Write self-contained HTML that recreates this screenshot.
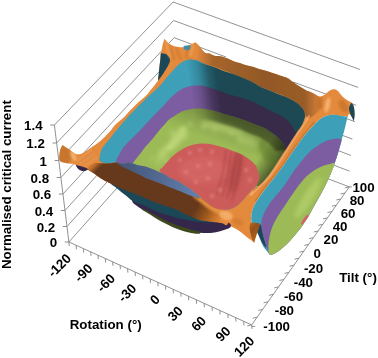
<!DOCTYPE html>
<html><head><meta charset="utf-8"><title>Chart</title>
<style>html,body{margin:0;padding:0;background:#fff;}svg{display:block}</style></head>
<body>
<svg width="378" height="358" viewBox="0 0 378 358">
<defs>
<linearGradient id="shadeR" gradientUnits="userSpaceOnUse" x1="186" y1="60" x2="215" y2="56">
<stop offset="0" stop-color="#000" stop-opacity="0"/><stop offset="0.35" stop-color="#000" stop-opacity="0.14"/><stop offset="0.7" stop-color="#000" stop-opacity="0.42"/><stop offset="1" stop-color="#000" stop-opacity="0.55"/></linearGradient>
<linearGradient id="shadeG" gradientUnits="userSpaceOnUse" x1="250" y1="110" x2="235" y2="150">
<stop offset="0" stop-color="#000" stop-opacity="0.33"/><stop offset="1" stop-color="#000" stop-opacity="0"/></linearGradient>
<linearGradient id="rimG" gradientUnits="userSpaceOnUse" x1="196" y1="0" x2="335" y2="0">
<stop offset="0" stop-color="#000" stop-opacity="0"/><stop offset="0.12" stop-color="#000" stop-opacity="0.27"/><stop offset="0.5" stop-color="#000" stop-opacity="0.36"/><stop offset="0.78" stop-color="#000" stop-opacity="0.33"/><stop offset="0.92" stop-color="#000" stop-opacity="0"/></linearGradient>
<linearGradient id="flG" gradientUnits="userSpaceOnUse" x1="88" y1="163" x2="225.6" y2="244.6">
<stop offset="0" stop-color="#66391A"/><stop offset="0.724" stop-color="#66391A"/><stop offset="0.8" stop-color="#9A571D"/><stop offset="0.854" stop-color="#C8742A"/><stop offset="0.904" stop-color="#E48A3C"/><stop offset="1" stop-color="#E48A3C"/></linearGradient>
<linearGradient id="bgG" gradientUnits="userSpaceOnUse" x1="116" y1="0" x2="198" y2="0"><stop offset="0" stop-color="#435575"/><stop offset="0.5" stop-color="#526890"/><stop offset="1" stop-color="#6280AE"/></linearGradient>
<linearGradient id="flapG" gradientUnits="userSpaceOnUse" x1="244" y1="224" x2="259" y2="238"><stop offset="0" stop-color="#C27226"/><stop offset="0.5" stop-color="#94501A"/><stop offset="1" stop-color="#B4651F"/></linearGradient>
<linearGradient id="shadeS" gradientUnits="userSpaceOnUse" x1="283" y1="155" x2="268" y2="144.5"><stop offset="0" stop-color="#000" stop-opacity="0.5"/><stop offset="1" stop-color="#000" stop-opacity="0"/></linearGradient>
<linearGradient id="brLo" gradientUnits="userSpaceOnUse" x1="88" y1="166" x2="95" y2="173"><stop offset="0" stop-color="#E48A3C" stop-opacity="1"/><stop offset="0.5" stop-color="#C8742C" stop-opacity="0.75"/><stop offset="1" stop-color="#A05A20" stop-opacity="0"/></linearGradient>
<linearGradient id="blobG" gradientUnits="userSpaceOnUse" x1="196" y1="0" x2="214" y2="0">
<stop offset="0" stop-color="#66391A"/><stop offset="1" stop-color="#E8923C"/></linearGradient>
<linearGradient id="brL" gradientUnits="userSpaceOnUse" x1="92" y1="0" x2="104" y2="0">
<stop offset="0" stop-color="#E48A3C"/><stop offset="1" stop-color="#66391A"/></linearGradient>
<filter id="soft" x="-5%" y="-5%" width="110%" height="110%"><feGaussianBlur stdDeviation="0.4"/></filter>
<filter id="b2" x="-20%" y="-20%" width="140%" height="140%"><feGaussianBlur stdDeviation="2.2"/></filter>
<filter id="b1" x="-20%" y="-20%" width="140%" height="140%"><feGaussianBlur stdDeviation="1.1"/></filter>
</defs>
<rect width="378" height="358" fill="#fff"/>
<g stroke="#777" stroke-width="0.8" fill="none">
<path d="M54.4,125.0 L173.1,2.0 L359.9,69.5"/>
<path d="M56.6,143.0 L173.6,20.5 L358.1,87.4"/>
<path d="M58.8,160.5 L174.1,37.7 L226,57.0 M293,81.9 L356.1,105.3"/>
<path d="M60.9,177.5 L174.6,55.0 L354.9,121.7"/>
<path d="M63.0,194.0 L175.1,72.0 L352.4,139.1"/>
<path d="M65.0,210.5 L175.6,88.5 L351.0,155.5"/>
<path d="M67.0,226.5 L176.1,105.0 L349.6,171.2"/>
<path d="M68.9,242.0 L176.6,121.0 L349.3,186.9"/>
</g>
<g stroke="#858585" stroke-width="0.9" fill="none">
<path d="M54.4,125.0 L68.9,242.0"/>
<path d="M50.2,125.0 L54.4,125.0"/>
<path d="M52.4,143.0 L56.6,143.0"/>
<path d="M54.6,160.5 L58.8,160.5"/>
<path d="M56.7,177.5 L60.9,177.5"/>
<path d="M58.8,194.0 L63.0,194.0"/>
<path d="M60.8,210.5 L65.0,210.5"/>
<path d="M62.8,226.5 L67.0,226.5"/>
<path d="M64.7,242.0 L68.9,242.0"/>
<path d="M68.9,242.0 L251.7,324.9"/>
<path d="M68.9,242.0 L69.2,246.0"/>
<path d="M76.1,245.3 L76.4,249.3"/>
<path d="M83.4,248.6 L83.7,252.6"/>
<path d="M90.7,251.9 L91.0,255.9"/>
<path d="M98.0,255.2 L98.3,259.2"/>
<path d="M105.3,258.5 L105.6,262.5"/>
<path d="M112.7,261.9 L113.0,265.9"/>
<path d="M120.1,265.2 L120.4,269.2"/>
<path d="M127.6,268.6 L127.9,272.6"/>
<path d="M135.1,272.0 L135.4,276.0"/>
<path d="M142.6,275.4 L142.9,279.4"/>
<path d="M150.2,278.9 L150.5,282.9"/>
<path d="M157.8,282.3 L158.1,286.3"/>
<path d="M165.4,285.8 L165.7,289.8"/>
<path d="M173.1,289.3 L173.4,293.3"/>
<path d="M180.8,292.7 L181.1,296.7"/>
<path d="M188.5,296.3 L188.8,300.3"/>
<path d="M196.3,299.8 L196.6,303.8"/>
<path d="M204.1,303.3 L204.4,307.3"/>
<path d="M212.0,306.9 L212.3,310.9"/>
<path d="M219.8,310.5 L220.1,314.5"/>
<path d="M227.8,314.0 L228.1,318.0"/>
<path d="M235.7,317.6 L236.0,321.6"/>
<path d="M243.7,321.3 L244.0,325.3"/>
<path d="M251.7,324.9 L252.0,328.9"/>
<path d="M251.7,324.9 L349.3,186.9"/>
<path d="M247.3,325.9 L251.7,324.9"/>
<path d="M252.8,318.2 L257.2,317.2"/>
<path d="M258.3,310.4 L262.7,309.4"/>
<path d="M263.6,302.8 L268.0,301.8"/>
<path d="M269.0,295.3 L273.4,294.3"/>
<path d="M274.2,287.9 L278.6,286.9"/>
<path d="M279.4,280.5 L283.8,279.5"/>
<path d="M284.5,273.4 L288.9,272.4"/>
<path d="M289.5,266.2 L293.9,265.2"/>
<path d="M294.5,259.2 L298.9,258.2"/>
<path d="M299.4,252.2 L303.8,251.2"/>
<path d="M304.3,245.4 L308.7,244.4"/>
<path d="M309.1,238.6 L313.5,237.6"/>
<path d="M313.7,232.0 L318.1,231.0"/>
<path d="M318.4,225.3 L322.8,224.3"/>
<path d="M323.0,218.9 L327.4,217.9"/>
<path d="M327.5,212.5 L331.9,211.5"/>
<path d="M331.9,206.2 L336.3,205.2"/>
<path d="M336.3,200.0 L340.7,199.0"/>
<path d="M340.6,194.0 L345.0,193.0"/>
<path d="M344.9,187.9 L349.3,186.9"/>
<path d="M251.7,326.4 L255.2,326.4"/>
<path d="M349.3,186.9 L351.8,186.9"/>
</g>
<g filter="url(#soft)">
<path d="M62.4,145.1 C62.4,145.1 64.8,146.6 66.3,147.5 C67.8,148.4 69.5,149.6 71.1,150.7 C72.7,151.8 74.3,153.4 75.9,153.9 C77.5,154.4 79.1,154.3 80.7,153.9 C82.3,153.5 83.8,152.4 85.4,151.5 C87.0,150.6 88.6,149.4 90.2,148.3 C91.8,147.2 93.4,146.2 95.0,145.1 C96.6,144.0 98.2,142.9 99.8,141.6 C101.4,140.2 103.1,138.6 104.7,137.0 C106.3,135.4 107.8,133.9 109.5,132.0 C111.2,130.1 113.0,127.3 114.6,125.5 C116.2,123.7 117.7,122.7 119.3,121.3 C120.9,119.9 122.5,118.6 124.1,117.0 C125.7,115.4 127.3,113.4 128.9,111.7 C130.5,110.0 132.1,108.5 133.7,106.9 C135.3,105.3 136.8,103.7 138.4,102.2 C140.0,100.8 141.7,99.5 143.2,98.2 C144.7,96.9 146.1,95.8 147.2,94.5 C148.3,93.2 148.9,92.1 150.0,90.7 C151.1,89.3 152.7,87.7 154.0,86.0 C155.3,84.3 158.0,80.8 158.0,80.8 C158.0,80.8 158.5,75.8 158.8,73.2 C159.1,70.6 159.3,67.7 159.6,65.3 C159.9,62.9 160.2,60.9 160.4,58.9 C160.6,56.9 160.6,54.6 160.8,53.3 C161.0,52.0 161.2,52.3 161.5,50.9 C161.8,49.5 162.2,46.7 162.7,44.6 C163.2,42.5 164.6,38.5 164.6,38.5 C164.6,38.5 166.2,41.1 167.5,42.2 C168.8,43.4 170.4,44.6 172.3,45.4 C174.2,46.2 176.6,46.6 178.7,46.9 C180.8,47.1 183.0,47.3 185.0,46.9 C187.0,46.5 188.9,45.4 190.6,44.6 C192.3,43.8 195.4,42.2 195.4,42.2 C195.4,42.2 196.9,43.6 197.8,44.6 C198.7,45.6 200.1,47.2 201.0,48.3 C201.9,49.4 202.7,50.5 203.5,51.3 C204.3,52.1 204.8,52.6 205.8,53.0 C206.9,53.4 208.3,53.1 209.8,53.6 C211.3,54.1 212.8,55.4 214.6,55.8 C216.4,56.2 218.8,55.8 220.9,56.2 C223.0,56.6 225.2,57.5 227.3,58.3 C229.4,59.1 231.6,60.4 233.7,61.2 C235.8,62.0 237.9,62.4 240.0,63.1 C242.1,63.8 244.3,64.7 246.4,65.3 C248.5,65.9 250.7,66.1 252.8,66.7 C254.9,67.3 257.0,68.2 259.1,68.9 C261.2,69.6 263.1,69.9 265.2,70.6 C267.3,71.2 269.5,72.0 272.0,72.8 C274.5,73.6 277.4,74.5 280.0,75.4 C282.6,76.3 285.2,76.8 287.5,78.0 C289.8,79.2 291.7,81.1 293.8,82.6 C295.9,84.1 298.1,85.5 300.2,86.8 C302.3,88.1 305.0,89.7 306.6,90.5 C308.2,91.3 308.6,91.1 310.0,91.7 C311.4,92.3 313.2,93.3 314.8,94.1 C316.4,94.9 318.0,96.4 319.6,96.5 C321.2,96.6 322.7,95.8 324.3,94.9 C325.9,94.0 327.5,91.8 329.1,90.9 C330.7,90.0 332.4,89.3 333.9,89.3 C335.4,89.3 336.6,89.8 337.9,90.9 C339.2,92.0 340.4,94.2 341.8,95.7 C343.2,97.2 345.0,98.6 346.6,99.7 C348.2,100.8 351.7,102.4 351.7,102.4 C351.7,102.4 353.3,104.7 353.8,106.8 C354.3,108.9 354.6,112.4 354.6,114.8 C354.6,117.2 353.8,121.2 353.8,121.2 C353.8,121.2 352.5,117.9 351.7,116.7 C350.9,115.5 349.7,114.0 349.0,114.0 C348.3,114.0 348.6,116.4 347.4,116.7 C346.2,117.0 344.1,116.4 341.8,116.1 C339.6,115.8 336.3,114.9 333.9,114.8 C331.5,114.7 329.6,115.0 327.5,115.6 C325.4,116.2 323.0,117.3 321.1,118.4 C319.2,119.5 317.8,121.0 316.4,122.4 C314.9,123.8 314.0,124.9 312.4,126.7 C310.8,128.5 308.7,130.3 306.5,133.0 C304.3,135.7 301.6,139.4 299.0,143.0 C296.4,146.6 293.4,150.8 290.8,154.6 C288.2,158.4 285.9,162.3 283.2,166.0 C280.5,169.7 277.5,173.6 274.8,177.0 C272.1,180.4 269.9,183.0 267.2,186.5 C264.5,190.0 260.9,195.0 258.8,198.0 C256.7,201.0 255.9,202.3 254.8,204.4 C253.7,206.5 252.8,208.4 252.2,210.7 C251.6,213.0 251.4,216.2 251.3,218.0 C251.2,219.8 250.4,220.8 251.8,221.8 C253.2,222.8 259.6,223.8 259.6,223.8 C259.6,223.8 258.0,226.5 257.3,228.2 C256.6,229.9 256.2,231.4 255.7,233.8 C255.2,236.2 254.2,242.8 254.2,242.8 C254.2,242.8 252.3,241.2 251.0,240.1 C249.7,239.0 247.8,237.7 246.2,236.4 C244.6,235.1 243.0,233.6 241.4,232.4 C239.8,231.2 238.2,230.1 236.6,229.2 C235.0,228.3 233.4,227.5 231.8,226.8 C230.2,226.1 228.7,225.6 227.1,225.0 C225.5,224.4 224.2,223.8 222.3,223.3 C220.4,222.9 218.0,222.6 215.9,222.3 C213.8,222.0 211.4,221.9 209.6,221.7 C207.8,221.5 206.7,221.2 205.2,221.0 C203.7,220.8 202.8,221.2 200.7,220.6 C198.6,220.0 195.5,218.6 192.8,217.5 C190.2,216.4 187.5,215.3 184.8,214.0 C182.1,212.7 179.5,210.9 176.8,209.7 C174.2,208.5 171.6,207.9 168.9,207.0 C166.2,206.1 163.6,205.1 160.9,204.2 C158.2,203.3 155.7,202.5 153.0,201.5 C150.3,200.5 147.8,199.2 145.0,198.0 C142.2,196.8 138.7,195.2 136.2,194.2 C133.7,193.2 131.9,192.6 129.8,191.8 C127.7,191.0 125.5,190.4 123.4,189.5 C121.3,188.6 119.2,187.4 117.1,186.4 C115.0,185.4 113.0,184.6 110.7,183.5 C108.4,182.4 105.6,181.2 103.5,180.0 C101.4,178.8 99.8,177.7 98.0,176.5 C96.2,175.3 94.7,174.0 93.0,172.8 C91.3,171.6 89.6,170.3 87.8,169.5 C86.0,168.7 84.0,168.8 82.0,168.0 C80.0,167.2 77.5,165.7 75.9,165.0 C74.4,164.3 74.0,164.1 72.7,163.8 C71.4,163.5 69.5,163.6 67.9,163.4 C66.3,163.2 64.4,163.0 63.1,162.6 C61.8,162.2 60.6,161.9 60.0,161.0 C59.4,160.1 59.2,158.8 59.2,157.1 C59.2,155.4 59.5,152.7 60.0,150.7 C60.5,148.7 62.4,145.1 62.4,145.1 Z" fill="#E48A3C"/>
<path d="M196.0,42.0 C196.7,39.9 199.8,46.8 201.0,48.3 C202.2,49.8 202.7,50.5 203.5,51.3 C204.3,52.1 204.8,52.6 205.8,53.0 C206.9,53.4 208.3,53.1 209.8,53.6 C211.3,54.1 212.8,55.4 214.6,55.8 C216.4,56.2 218.8,55.8 220.9,56.2 C223.0,56.6 225.2,57.5 227.3,58.3 C229.4,59.1 231.6,60.4 233.7,61.2 C235.8,62.0 237.9,62.4 240.0,63.1 C242.1,63.8 244.3,64.7 246.4,65.3 C248.5,65.9 250.7,66.1 252.8,66.7 C254.9,67.3 257.0,68.2 259.1,68.9 C261.2,69.6 263.1,69.9 265.2,70.6 C267.3,71.2 269.5,72.0 272.0,72.8 C274.5,73.6 277.4,74.5 280.0,75.4 C282.6,76.3 285.2,76.8 287.5,78.0 C289.8,79.2 291.7,81.1 293.8,82.6 C295.9,84.1 298.1,85.5 300.2,86.8 C302.3,88.1 305.0,89.7 306.6,90.5 C308.2,91.3 308.6,91.1 310.0,91.7 C311.4,92.3 313.2,93.3 314.8,94.1 C316.4,94.9 317.9,96.2 319.6,96.5 C321.3,96.8 323.3,95.4 325.0,96.0 C326.7,96.6 330.8,97.7 330.0,100.0 C329.2,102.3 323.7,107.0 320.0,110.0 C316.3,113.0 311.3,118.7 308.0,118.0 C304.7,117.3 303.7,109.5 300.0,106.0 C296.3,102.5 292.3,100.1 286.0,97.0 C279.7,93.9 270.2,91.1 262.0,87.6 C253.8,84.1 245.0,79.3 236.8,75.8 C228.6,72.2 219.6,68.8 213.0,66.3 C206.4,63.8 199.8,65.0 197.0,61.0 C194.2,57.0 195.3,44.1 196.0,42.0 Z" fill="url(#rimG)"/>
<path d="M183.6,46.6 C183.9,46.0 185.0,45.8 186.0,45.6 C187.0,45.4 188.7,45.1 189.5,45.2 C190.3,45.4 190.5,45.8 190.6,46.5 C190.7,47.2 190.6,48.6 190.0,49.2 C189.4,49.8 187.8,50.2 186.8,50.2 C185.8,50.2 184.7,49.8 184.2,49.2 C183.7,48.6 183.3,47.2 183.6,46.6 Z" fill="#3793AC"/>
<path d="M160.8,53.3 C160.8,53.3 164.5,53.4 165.9,54.1 C167.3,54.8 168.4,56.1 169.1,57.3 C169.8,58.5 170.2,59.7 169.9,61.3 C169.6,62.9 168.6,64.8 167.5,66.8 C166.4,68.8 164.8,71.2 163.5,73.2 C162.2,75.2 160.5,77.5 159.6,78.8 C158.7,80.1 158.0,80.8 158.0,80.8 C158.0,80.8 158.5,75.8 158.8,73.2 C159.1,70.6 159.3,67.7 159.6,65.3 C159.9,62.9 160.2,60.9 160.4,58.9 C160.6,56.9 160.8,53.3 160.8,53.3 Z" fill="#1D4656"/>
<path d="M351.7,102.8 C351.7,102.8 353.3,104.8 353.8,106.8 C354.3,108.8 354.6,112.4 354.6,114.8 C354.6,117.2 353.8,121.2 353.8,121.2 C353.8,121.2 352.4,118.2 351.7,116.7 C351.0,115.2 350.2,113.9 349.8,112.4 C349.4,110.9 348.7,109.2 349.0,107.6 C349.3,106.0 351.7,102.8 351.7,102.8 Z" fill="#1D4656"/>
<path d="M99.8,161.0 C98.8,159.8 99.5,158.2 99.8,156.3 C100.1,154.5 100.5,152.0 101.4,149.9 C102.3,147.8 103.9,145.8 105.3,144.0 C106.7,142.2 108.2,140.7 109.8,138.8 C111.3,136.9 113.0,134.4 114.6,132.4 C116.2,130.4 117.7,128.7 119.3,126.8 C120.9,124.9 122.5,123.1 124.1,121.3 C125.7,119.5 127.3,117.4 128.9,115.7 C130.5,114.0 132.1,112.5 133.7,110.9 C135.3,109.3 136.8,107.7 138.4,106.1 C140.0,104.5 141.6,103.0 143.2,101.4 C144.8,99.8 146.3,98.2 148.0,96.6 C149.7,95.0 151.5,93.8 153.4,92.0 C155.3,90.2 157.8,87.9 159.6,86.0 C161.4,84.1 162.7,82.3 164.3,80.4 C165.9,78.5 167.5,76.7 169.1,74.8 C170.7,72.9 172.3,70.9 173.9,69.2 C175.5,67.5 177.1,65.8 178.7,64.5 C180.3,63.2 181.8,62.1 183.4,61.3 C185.0,60.5 186.6,60.0 188.2,59.7 C189.8,59.4 191.4,59.6 193.0,59.7 C194.6,59.8 195.8,59.7 197.8,60.5 C199.8,61.3 202.5,63.2 205.0,64.3 C207.5,65.3 210.3,65.8 213.0,66.8 C215.7,67.8 218.2,69.0 220.9,70.0 C223.6,71.0 226.2,71.9 228.9,72.8 C231.6,73.7 234.2,74.6 236.8,75.6 C239.5,76.6 242.1,77.7 244.8,78.8 C247.5,79.9 249.9,80.9 252.8,82.4 C255.7,83.9 259.1,86.2 262.0,87.6 C264.9,89.0 267.4,89.7 270.0,90.7 C272.6,91.8 275.2,92.8 277.9,93.9 C280.5,95.0 283.2,95.9 285.9,97.1 C288.5,98.3 291.4,99.6 293.8,101.1 C296.2,102.6 298.6,104.3 300.2,105.9 C301.8,107.5 302.9,109.0 303.7,110.6 C304.5,112.2 304.9,113.9 305.0,115.4 C305.1,116.9 304.8,117.7 304.2,119.4 C303.6,121.1 302.8,123.2 301.5,125.5 C300.2,127.8 298.4,129.9 296.3,133.0 C294.2,136.1 291.6,140.2 289.2,144.0 C286.8,147.8 284.1,151.9 281.7,155.6 C279.3,159.3 277.4,162.4 275.0,166.0 C272.6,169.6 270.0,173.7 267.2,177.0 C264.4,180.3 260.9,183.8 258.3,186.0 C255.7,188.2 253.5,188.6 251.3,190.5 C249.2,192.4 247.1,195.3 245.4,197.2 C243.8,199.1 242.9,200.4 241.4,201.9 C239.9,203.4 238.4,204.7 236.6,205.9 C234.8,207.1 232.4,208.3 230.3,209.1 C228.2,209.8 226.0,210.4 223.9,210.4 C221.8,210.4 219.6,209.8 217.5,209.1 C215.4,208.3 213.2,207.2 211.1,205.9 C209.0,204.6 206.7,202.7 204.8,201.1 C202.9,199.5 200.8,197.3 199.9,196.5 C199.0,195.7 200.0,196.9 199.3,196.4 C198.7,195.9 197.6,194.6 196.0,193.3 C194.4,192.0 191.7,189.9 189.6,188.5 C187.5,187.1 185.3,185.9 183.2,184.6 C181.1,183.3 178.9,181.7 176.8,180.6 C174.7,179.5 172.3,179.1 170.5,178.2 C168.7,177.3 167.8,176.1 165.7,175.0 C163.6,173.9 160.6,172.6 158.0,171.5 C155.4,170.4 152.5,169.2 150.2,168.3 C147.9,167.4 146.2,166.8 144.1,166.3 C142.0,165.8 139.7,165.6 137.8,165.2 C136.0,164.8 134.6,164.1 133.0,163.6 C131.4,163.1 129.7,162.2 128.2,162.2 C126.7,162.2 125.5,163.4 124.0,163.5 C122.5,163.6 120.5,163.2 119.2,163.0 C117.9,162.8 117.2,162.0 116.0,162.0 C114.8,162.0 114.0,162.8 112.3,163.1 C110.6,163.3 108.0,163.8 105.9,163.5 C103.8,163.2 100.8,162.2 99.8,161.0 Z" fill="#3D9FB8"/>
<path d="M116.2,160.8 C116.2,159.4 118.1,156.9 119.2,154.8 C120.3,152.7 121.1,150.5 122.8,148.2 C124.5,145.9 126.9,143.4 129.3,141.0 C131.7,138.6 134.6,136.0 137.0,133.5 C139.4,131.0 141.7,128.5 144.0,126.0 C146.3,123.5 148.7,120.9 151.0,118.5 C153.3,116.1 155.4,114.0 157.6,111.8 C159.8,109.6 161.8,107.5 164.0,105.2 C166.2,102.9 168.2,100.2 170.5,98.0 C172.8,95.8 175.1,93.5 177.5,91.8 C179.9,90.0 182.8,88.5 185.2,87.5 C187.6,86.5 189.9,86.0 192.0,85.7 C194.1,85.4 196.0,85.5 198.0,85.6 C200.0,85.6 201.6,85.5 204.1,86.0 C206.6,86.5 210.2,87.7 213.0,88.6 C215.8,89.5 218.2,90.5 220.9,91.5 C223.6,92.5 225.7,93.5 228.9,94.5 C232.1,95.5 236.1,96.1 240.0,97.3 C243.9,98.5 248.5,100.0 252.2,101.5 C255.9,103.0 259.0,105.0 262.0,106.5 C265.0,108.0 267.4,109.2 270.0,110.5 C272.6,111.8 275.2,112.8 277.5,114.0 C279.8,115.2 282.0,116.1 284.0,117.5 C286.0,118.9 287.9,120.8 289.5,122.5 C291.1,124.2 292.4,126.3 293.5,128.0 C294.6,129.7 296.3,132.8 296.3,132.8 C296.3,132.8 297.5,131.1 296.3,133.0 C295.1,134.9 291.6,140.2 289.2,144.0 C286.8,147.8 284.1,151.9 281.7,155.6 C279.3,159.3 277.4,162.4 275.0,166.0 C272.6,169.6 270.0,173.7 267.2,177.0 C264.4,180.3 260.9,183.8 258.3,186.0 C255.7,188.2 253.5,188.6 251.3,190.5 C249.2,192.4 247.1,195.3 245.4,197.2 C243.8,199.1 242.9,200.4 241.4,201.9 C239.9,203.4 238.4,204.7 236.6,205.9 C234.8,207.1 232.4,208.3 230.3,209.1 C228.2,209.8 226.0,210.4 223.9,210.4 C221.8,210.4 219.6,209.8 217.5,209.1 C215.4,208.3 213.2,207.2 211.1,205.9 C209.0,204.6 206.7,202.7 204.8,201.1 C202.9,199.5 200.8,197.3 199.9,196.5 C199.0,195.7 200.0,196.9 199.3,196.4 C198.7,195.9 197.6,194.6 196.0,193.3 C194.4,192.0 191.7,189.9 189.6,188.5 C187.5,187.1 185.3,185.9 183.2,184.6 C181.1,183.3 178.9,181.7 176.8,180.6 C174.7,179.5 172.3,179.1 170.5,178.2 C168.7,177.3 167.8,176.1 165.7,175.0 C163.6,173.9 160.6,172.6 158.0,171.5 C155.4,170.4 152.5,169.2 150.2,168.3 C147.9,167.4 146.2,166.8 144.1,166.3 C142.0,165.8 139.7,165.6 137.8,165.2 C136.0,164.8 134.6,164.1 133.0,163.6 C131.4,163.1 129.7,162.2 128.2,162.2 C126.7,162.2 125.5,163.4 124.0,163.5 C122.5,163.6 120.5,163.4 119.2,163.0 C117.9,162.6 116.2,162.2 116.2,160.8 Z" fill="#7C5DA2"/>
<path d="M133.0,163.8 C132.7,162.8 134.7,160.8 136.0,159.0 C137.3,157.2 139.2,155.0 140.8,153.0 C142.4,151.0 144.0,148.6 145.4,146.8 C146.8,145.0 148.0,144.0 149.5,142.3 C151.0,140.6 152.5,138.7 154.4,136.4 C156.3,134.2 158.9,130.9 160.7,128.8 C162.5,126.7 163.7,125.5 165.0,124.0 C166.3,122.5 167.0,121.3 168.5,120.0 C170.0,118.7 172.1,117.5 174.0,116.3 C175.9,115.1 178.1,113.6 180.0,112.6 C181.9,111.6 183.2,110.9 185.5,110.3 C187.8,109.7 191.2,109.0 194.0,108.7 C196.8,108.5 199.3,108.5 202.5,108.8 C205.7,109.1 209.6,109.7 213.1,110.5 C216.6,111.3 220.2,112.7 223.7,113.7 C227.2,114.8 230.6,115.6 234.3,116.8 C238.1,118.0 242.4,119.3 246.2,120.7 C249.9,122.1 253.7,123.8 256.8,125.0 C259.9,126.2 262.4,126.9 264.6,128.0 C266.8,129.1 268.1,130.2 270.0,131.5 C271.9,132.8 274.1,134.1 276.0,135.8 C277.9,137.5 280.1,139.8 281.5,141.5 C282.9,143.2 283.8,144.6 284.5,146.0 C285.2,147.4 285.5,150.0 285.5,150.0 C285.5,150.0 283.4,152.9 281.7,155.6 C279.9,158.3 277.4,162.4 275.0,166.0 C272.6,169.6 270.0,173.7 267.2,177.0 C264.4,180.3 260.9,183.8 258.3,186.0 C255.7,188.2 253.5,188.6 251.3,190.5 C249.2,192.4 247.1,195.3 245.4,197.2 C243.8,199.1 242.9,200.4 241.4,201.9 C239.9,203.4 238.4,204.7 236.6,205.9 C234.8,207.1 232.4,208.3 230.3,209.1 C228.2,209.8 226.0,210.4 223.9,210.4 C221.8,210.4 219.6,209.8 217.5,209.1 C215.4,208.3 213.2,207.2 211.1,205.9 C209.0,204.6 206.7,202.7 204.8,201.1 C202.9,199.5 200.8,197.3 199.9,196.5 C199.0,195.7 200.0,196.9 199.3,196.4 C198.7,195.9 197.6,194.6 196.0,193.3 C194.4,192.0 191.7,189.9 189.6,188.5 C187.5,187.1 185.3,185.9 183.2,184.6 C181.1,183.3 178.9,181.7 176.8,180.6 C174.7,179.5 172.3,179.1 170.5,178.2 C168.7,177.3 167.8,176.1 165.7,175.0 C163.6,173.9 160.6,172.6 158.0,171.5 C155.4,170.4 152.5,169.2 150.2,168.3 C147.9,167.4 146.2,166.8 144.1,166.3 C142.0,165.8 139.7,165.6 137.8,165.2 C136.0,164.8 133.3,164.8 133.0,163.8 Z" fill="#9CBB56"/>
<path d="M133.0,163.8 C132.7,162.8 134.7,160.8 136.0,159.0 C137.3,157.2 139.2,155.0 140.8,153.0 C142.4,151.0 144.0,148.6 145.4,146.8 C146.8,145.0 148.0,144.0 149.5,142.3 C151.0,140.6 152.5,138.7 154.4,136.4 C156.3,134.2 158.9,130.9 160.7,128.8 C162.5,126.7 163.7,125.5 165.0,124.0 C166.3,122.5 167.0,121.3 168.5,120.0 C170.0,118.7 172.1,117.5 174.0,116.3 C175.9,115.1 178.1,113.6 180.0,112.6 C181.9,111.6 183.2,110.9 185.5,110.3 C187.8,109.7 191.2,109.0 194.0,108.7 C196.8,108.5 199.3,108.5 202.5,108.8 C205.7,109.1 209.6,109.7 213.1,110.5 C216.6,111.3 220.2,112.7 223.7,113.7 C227.2,114.8 230.6,115.6 234.3,116.8 C238.1,118.0 242.4,119.3 246.2,120.7 C249.9,122.1 253.7,123.8 256.8,125.0 C259.9,126.2 262.4,126.9 264.6,128.0 C266.8,129.1 268.1,130.2 270.0,131.5 C271.9,132.8 274.1,134.1 276.0,135.8 C277.9,137.5 280.1,139.8 281.5,141.5 C282.9,143.2 283.8,144.6 284.5,146.0 C285.2,147.4 285.5,150.0 285.5,150.0 C285.5,150.0 283.4,152.9 281.7,155.6 C279.9,158.3 277.4,162.4 275.0,166.0 C272.6,169.6 270.0,173.7 267.2,177.0 C264.4,180.3 260.9,183.8 258.3,186.0 C255.7,188.2 253.5,188.6 251.3,190.5 C249.2,192.4 247.1,195.3 245.4,197.2 C243.8,199.1 242.9,200.4 241.4,201.9 C239.9,203.4 238.4,204.7 236.6,205.9 C234.8,207.1 232.4,208.3 230.3,209.1 C228.2,209.8 226.0,210.4 223.9,210.4 C221.8,210.4 219.6,209.8 217.5,209.1 C215.4,208.3 213.2,207.2 211.1,205.9 C209.0,204.6 206.7,202.7 204.8,201.1 C202.9,199.5 200.8,197.3 199.9,196.5 C199.0,195.7 200.0,196.9 199.3,196.4 C198.7,195.9 197.6,194.6 196.0,193.3 C194.4,192.0 191.7,189.9 189.6,188.5 C187.5,187.1 185.3,185.9 183.2,184.6 C181.1,183.3 178.9,181.7 176.8,180.6 C174.7,179.5 172.3,179.1 170.5,178.2 C168.7,177.3 167.8,176.1 165.7,175.0 C163.6,173.9 160.6,172.6 158.0,171.5 C155.4,170.4 152.5,169.2 150.2,168.3 C147.9,167.4 146.2,166.8 144.1,166.3 C142.0,165.8 139.7,165.6 137.8,165.2 C136.0,164.8 133.3,164.8 133.0,163.8 Z" fill="url(#shadeG)"/>
<g clip-path="url(#cG)"><path d="M296.0,134.0 C297.7,137.0 291.6,140.4 289.2,144.0 C286.8,147.6 284.1,151.9 281.7,155.6 C279.3,159.3 277.4,162.4 275.0,166.0 C272.6,169.6 270.0,173.7 267.2,177.0 C264.4,180.3 262.2,185.5 258.3,186.0 C254.4,186.5 244.7,184.3 244.0,180.0 C243.3,175.7 250.3,166.2 254.0,160.0 C257.7,153.8 261.8,148.7 266.0,143.0 C270.2,137.3 274.0,127.5 279.0,126.0 C284.0,124.5 294.3,131.0 296.0,134.0 Z" fill="url(#shadeS)"/></g>
<clipPath id="cG"><path d="M133.0,163.8 C132.7,162.8 134.7,160.8 136.0,159.0 C137.3,157.2 139.2,155.0 140.8,153.0 C142.4,151.0 144.0,148.6 145.4,146.8 C146.8,145.0 148.0,144.0 149.5,142.3 C151.0,140.6 152.5,138.7 154.4,136.4 C156.3,134.2 158.9,130.9 160.7,128.8 C162.5,126.7 163.7,125.5 165.0,124.0 C166.3,122.5 167.0,121.3 168.5,120.0 C170.0,118.7 172.1,117.5 174.0,116.3 C175.9,115.1 178.1,113.6 180.0,112.6 C181.9,111.6 183.2,110.9 185.5,110.3 C187.8,109.7 191.2,109.0 194.0,108.7 C196.8,108.5 199.3,108.5 202.5,108.8 C205.7,109.1 209.6,109.7 213.1,110.5 C216.6,111.3 220.2,112.7 223.7,113.7 C227.2,114.8 230.6,115.6 234.3,116.8 C238.1,118.0 242.4,119.3 246.2,120.7 C249.9,122.1 253.7,123.8 256.8,125.0 C259.9,126.2 262.4,126.9 264.6,128.0 C266.8,129.1 268.1,130.2 270.0,131.5 C271.9,132.8 274.1,134.1 276.0,135.8 C277.9,137.5 280.1,139.8 281.5,141.5 C282.9,143.2 283.8,144.6 284.5,146.0 C285.2,147.4 285.5,150.0 285.5,150.0 C285.5,150.0 283.4,152.9 281.7,155.6 C279.9,158.3 277.4,162.4 275.0,166.0 C272.6,169.6 270.0,173.7 267.2,177.0 C264.4,180.3 260.9,183.8 258.3,186.0 C255.7,188.2 253.5,188.6 251.3,190.5 C249.2,192.4 247.1,195.3 245.4,197.2 C243.8,199.1 242.9,200.4 241.4,201.9 C239.9,203.4 238.4,204.7 236.6,205.9 C234.8,207.1 232.4,208.3 230.3,209.1 C228.2,209.8 226.0,210.4 223.9,210.4 C221.8,210.4 219.6,209.8 217.5,209.1 C215.4,208.3 213.2,207.2 211.1,205.9 C209.0,204.6 206.7,202.7 204.8,201.1 C202.9,199.5 200.8,197.3 199.9,196.5 C199.0,195.7 200.0,196.9 199.3,196.4 C198.7,195.9 197.6,194.6 196.0,193.3 C194.4,192.0 191.7,189.9 189.6,188.5 C187.5,187.1 185.3,185.9 183.2,184.6 C181.1,183.3 178.9,181.7 176.8,180.6 C174.7,179.5 172.3,179.1 170.5,178.2 C168.7,177.3 167.8,176.1 165.7,175.0 C163.6,173.9 160.6,172.6 158.0,171.5 C155.4,170.4 152.5,169.2 150.2,168.3 C147.9,167.4 146.2,166.8 144.1,166.3 C142.0,165.8 139.7,165.6 137.8,165.2 C136.0,164.8 133.3,164.8 133.0,163.8 Z"/></clipPath><clipPath id="cR"><path d="M159.8,171.2 C158.6,169.3 161.6,168.8 163.0,167.0 C164.4,165.2 166.6,162.6 168.5,160.5 C170.4,158.4 172.5,156.3 174.6,154.6 C176.7,152.8 178.9,151.3 181.0,150.0 C183.1,148.7 184.8,147.7 187.0,146.8 C189.2,145.9 191.4,145.1 194.0,144.5 C196.6,143.9 199.7,143.5 202.5,143.4 C205.3,143.3 208.2,143.7 211.0,144.2 C213.8,144.7 216.6,145.4 219.4,146.2 C222.2,147.0 225.4,148.1 227.9,149.0 C230.4,149.9 232.2,150.7 234.3,151.5 C236.4,152.3 238.2,152.9 240.2,153.8 C242.1,154.7 244.2,155.8 246.0,157.0 C247.8,158.2 249.4,159.4 251.0,160.8 C252.6,162.2 254.6,163.7 255.8,165.5 C257.0,167.3 257.4,169.8 258.0,171.6 C258.6,173.3 259.4,174.4 259.5,176.0 C259.6,177.6 259.1,179.2 258.5,181.0 C257.9,182.8 257.2,184.9 256.0,186.5 C254.8,188.1 253.1,188.7 251.3,190.5 C249.5,192.3 247.1,195.3 245.4,197.2 C243.8,199.1 242.9,200.4 241.4,201.9 C239.9,203.4 238.4,204.7 236.6,205.9 C234.8,207.1 232.4,208.3 230.3,209.1 C228.2,209.8 226.0,210.4 223.9,210.4 C221.8,210.4 219.6,209.8 217.5,209.1 C215.4,208.3 213.2,207.2 211.1,205.9 C209.0,204.6 206.7,202.7 204.8,201.1 C202.9,199.5 200.8,197.3 199.9,196.5 C199.0,195.7 200.0,196.9 199.3,196.4 C198.7,195.9 197.6,194.6 196.0,193.3 C194.4,192.0 191.7,189.9 189.6,188.5 C187.5,187.1 185.3,185.9 183.2,184.6 C181.1,183.3 178.9,181.7 176.8,180.6 C174.7,179.5 173.3,179.8 170.5,178.2 C167.7,176.6 161.1,173.1 159.8,171.2 Z"/></clipPath>
<g clip-path="url(#cG)" opacity="0.7"><path d="M185.5,110.3 C170.2,103.4 191.2,109.0 194.0,108.7 C196.8,108.5 199.3,108.5 202.5,108.8 C205.7,109.1 209.6,109.7 213.1,110.5 C216.6,111.3 220.2,112.7 223.7,113.7 C227.2,114.8 230.6,115.6 234.3,116.8 C238.1,118.0 242.4,119.3 246.2,120.7 C249.9,122.1 253.7,123.8 256.8,125.0 C259.9,126.2 262.4,126.9 264.6,128.0 C266.8,129.1 268.1,130.2 270.0,131.5 C271.9,132.8 274.1,134.1 276.0,135.8 C277.9,137.5 280.1,139.8 281.5,141.5 C282.9,143.2 283.8,144.6 284.5,146.0 C285.2,147.4 285.5,150.0 285.5,150.0" stroke="url(#shadeR)" stroke-width="21" fill="none" filter="url(#b1)"/></g>
<g clip-path="url(#cG)"><g filter="url(#b2)">
<ellipse cx="177" cy="139" rx="5" ry="15" transform="rotate(38 177 139)" fill="#CFE58A" opacity="0.6"/>
<ellipse cx="163" cy="153" rx="4" ry="9" transform="rotate(35 163 153)" fill="#CFE58A" opacity="0.45"/>
<ellipse cx="222" cy="128" rx="22" ry="4" transform="rotate(14 222 128)" fill="#C6DE7C" opacity="0.45"/>
<ellipse cx="246" cy="140" rx="12" ry="5" transform="rotate(25 246 140)" fill="#C6DE7C" opacity="0.35"/>
<ellipse cx="268" cy="152" rx="7" ry="14" transform="rotate(-30 268 152)" fill="#55701F" opacity="0.45"/>
<circle cx="170" cy="147" r="2.2" fill="#D6EA96" opacity="0.5"/>
<circle cx="166" cy="160" r="2" fill="#D6EA96" opacity="0.5"/>
<circle cx="172" cy="133" r="2" fill="#D6EA96" opacity="0.5"/>
<circle cx="182" cy="128" r="2.2" fill="#D6EA96" opacity="0.5"/>
<circle cx="158" cy="163" r="1.8" fill="#D6EA96" opacity="0.5"/>
<circle cx="190" cy="124" r="2" fill="#D6EA96" opacity="0.5"/>
<circle cx="204" cy="127" r="2" fill="#D6EA96" opacity="0.5"/>
<circle cx="214" cy="130" r="1.8" fill="#D6EA96" opacity="0.5"/>
<circle cx="232" cy="134" r="2" fill="#D6EA96" opacity="0.5"/>
<circle cx="240" cy="141" r="1.8" fill="#D6EA96" opacity="0.5"/>
<circle cx="152" cy="158" r="1.8" fill="#D6EA96" opacity="0.5"/>
<circle cx="186" cy="137" r="2" fill="#D6EA96" opacity="0.5"/>
</g></g>
<path d="M159.8,171.2 C158.6,169.3 161.6,168.8 163.0,167.0 C164.4,165.2 166.6,162.6 168.5,160.5 C170.4,158.4 172.5,156.3 174.6,154.6 C176.7,152.8 178.9,151.3 181.0,150.0 C183.1,148.7 184.8,147.7 187.0,146.8 C189.2,145.9 191.4,145.1 194.0,144.5 C196.6,143.9 199.7,143.5 202.5,143.4 C205.3,143.3 208.2,143.7 211.0,144.2 C213.8,144.7 216.6,145.4 219.4,146.2 C222.2,147.0 225.4,148.1 227.9,149.0 C230.4,149.9 232.2,150.7 234.3,151.5 C236.4,152.3 238.2,152.9 240.2,153.8 C242.1,154.7 244.2,155.8 246.0,157.0 C247.8,158.2 249.4,159.4 251.0,160.8 C252.6,162.2 254.6,163.7 255.8,165.5 C257.0,167.3 257.4,169.8 258.0,171.6 C258.6,173.3 259.4,174.4 259.5,176.0 C259.6,177.6 259.1,179.2 258.5,181.0 C257.9,182.8 257.2,184.9 256.0,186.5 C254.8,188.1 253.1,188.7 251.3,190.5 C249.5,192.3 247.1,195.3 245.4,197.2 C243.8,199.1 242.9,200.4 241.4,201.9 C239.9,203.4 238.4,204.7 236.6,205.9 C234.8,207.1 232.4,208.3 230.3,209.1 C228.2,209.8 226.0,210.4 223.9,210.4 C221.8,210.4 219.6,209.8 217.5,209.1 C215.4,208.3 213.2,207.2 211.1,205.9 C209.0,204.6 206.7,202.7 204.8,201.1 C202.9,199.5 200.8,197.3 199.9,196.5 C199.0,195.7 200.0,196.9 199.3,196.4 C198.7,195.9 197.6,194.6 196.0,193.3 C194.4,192.0 191.7,189.9 189.6,188.5 C187.5,187.1 185.3,185.9 183.2,184.6 C181.1,183.3 178.9,181.7 176.8,180.6 C174.7,179.5 173.3,179.8 170.5,178.2 C167.7,176.6 161.1,173.1 159.8,171.2 Z" fill="#CC5C5A"/>
<g clip-path="url(#cR)"><g filter="url(#b2)">
<ellipse cx="203" cy="170" rx="24" ry="13" fill="#E07A78" opacity="0.3"/>
<ellipse cx="236" cy="172" rx="6" ry="22" transform="rotate(12 236 172)" fill="#8E3337" opacity="0.35"/>
</g><g filter="url(#b1)" fill="none" stroke-linecap="round">
<path d="M226,150 Q224,172 217,194" stroke="#8E3337" stroke-width="1.2" opacity="0.5"/>
<path d="M231,152 Q229,174 222,196" stroke="#8E3337" stroke-width="1.2" opacity="0.5"/>
<path d="M236,154 Q234,176 227,198" stroke="#8E3337" stroke-width="1.2" opacity="0.5"/>
<path d="M241,157 Q239,179 232,201" stroke="#8E3337" stroke-width="1.2" opacity="0.5"/>
<circle cx="180" cy="160" r="2.2" fill="#E8908C" stroke="none" opacity="0.45"/>
<circle cx="190" cy="153" r="2.2" fill="#E8908C" stroke="none" opacity="0.45"/>
<circle cx="200" cy="150" r="2.2" fill="#E8908C" stroke="none" opacity="0.45"/>
<circle cx="212" cy="152" r="2.2" fill="#E8908C" stroke="none" opacity="0.45"/>
<circle cx="186" cy="172" r="2.2" fill="#E8908C" stroke="none" opacity="0.45"/>
<circle cx="198" cy="166" r="2.2" fill="#E8908C" stroke="none" opacity="0.45"/>
<circle cx="210" cy="164" r="2.2" fill="#E8908C" stroke="none" opacity="0.45"/>
<circle cx="196" cy="182" r="2.2" fill="#E8908C" stroke="none" opacity="0.45"/>
<circle cx="208" cy="178" r="2.2" fill="#E8908C" stroke="none" opacity="0.45"/>
<circle cx="220" cy="190" r="2.2" fill="#E8908C" stroke="none" opacity="0.45"/>
<circle cx="212" cy="196" r="2.2" fill="#E8908C" stroke="none" opacity="0.45"/>
<circle cx="246" cy="170" r="2.2" fill="#E8908C" stroke="none" opacity="0.45"/>
<circle cx="250" cy="180" r="2.2" fill="#E8908C" stroke="none" opacity="0.45"/>
</g></g>
<path d="M186.0,60.0 C188.2,51.1 189.8,58.8 193.0,59.5 C196.2,60.2 201.7,63.1 205.0,64.3 C208.3,65.5 210.3,65.8 213.0,66.8 C215.7,67.8 218.2,69.0 220.9,70.0 C223.6,71.0 226.2,71.9 228.9,72.8 C231.6,73.7 234.2,74.6 236.8,75.6 C239.5,76.6 242.1,77.7 244.8,78.8 C247.5,79.9 249.9,80.9 252.8,82.4 C255.7,83.9 259.1,86.2 262.0,87.6 C264.9,89.0 267.4,89.7 270.0,90.7 C272.6,91.8 275.2,92.8 277.9,93.9 C280.5,95.0 283.2,95.9 285.9,97.1 C288.5,98.3 291.4,99.6 293.8,101.1 C296.2,102.6 298.6,104.3 300.2,105.9 C301.8,107.5 302.9,109.0 303.7,110.6 C304.5,112.2 304.9,113.9 305.0,115.4 C305.1,116.9 304.8,117.7 304.2,119.4 C303.6,121.1 302.8,123.2 301.5,125.5 C300.2,127.8 298.4,129.9 296.3,133.0 C294.2,136.1 291.0,141.2 289.2,144.0 C287.4,146.8 286.1,149.0 285.5,150.0 C284.9,151.0 285.5,150.0 285.5,150.0 C285.5,150.0 285.2,147.4 284.5,146.0 C283.8,144.6 282.9,143.2 281.5,141.5 C280.1,139.8 277.9,137.5 276.0,135.8 C274.1,134.1 271.9,132.8 270.0,131.5 C268.1,130.2 266.8,129.1 264.6,128.0 C262.4,126.9 259.9,126.2 256.8,125.0 C253.7,123.8 249.9,122.1 246.2,120.7 C242.4,119.3 238.1,118.0 234.3,116.8 C230.6,115.6 227.2,114.8 223.7,113.7 C220.2,112.7 216.6,111.3 213.1,110.5 C209.6,109.7 205.7,109.1 202.5,108.8 C199.3,108.5 196.8,108.5 194.0,108.7 C191.2,109.0 187.8,109.7 185.5,110.3 C183.2,110.9 179.9,121.0 180.0,112.6 C180.1,104.2 183.8,68.8 186.0,60.0 Z" fill="url(#shadeR)"/>
<path d="M199.3,196.4 C198.5,195.0 197.6,194.6 196.0,193.3 C194.4,192.0 191.7,189.9 189.6,188.5 C187.5,187.1 185.3,185.9 183.2,184.6 C181.1,183.3 178.9,181.7 176.8,180.6 C174.7,179.5 172.3,179.1 170.5,178.2 C168.7,177.3 167.8,176.1 165.7,175.0 C163.6,173.9 160.6,172.6 158.0,171.5 C155.4,170.4 152.5,169.2 150.2,168.3 C147.9,167.4 146.2,166.8 144.1,166.3 C142.0,165.8 139.7,165.6 137.8,165.2 C136.0,164.8 134.6,164.1 133.0,163.6 C131.4,163.1 129.7,162.2 128.2,162.2 C126.7,162.2 125.5,163.4 124.0,163.5 C122.5,163.6 120.5,163.2 119.2,163.0 C117.9,162.8 116.5,161.6 116.0,162.0 C115.5,162.4 115.3,164.5 116.3,165.7 C117.3,166.9 119.8,168.3 121.8,169.4 C123.8,170.5 126.1,171.4 128.2,172.4 C130.3,173.4 132.5,174.4 134.6,175.4 C136.7,176.4 139.3,177.7 141.0,178.6 C142.7,179.5 143.0,179.9 145.0,180.8 C147.0,181.7 150.3,182.8 153.0,183.8 C155.7,184.8 158.2,185.8 160.9,186.8 C163.6,187.8 166.2,188.9 168.9,189.9 C171.6,190.9 174.2,192.0 176.8,193.1 C179.5,194.2 182.1,195.2 184.8,196.3 C187.5,197.4 190.2,198.6 192.8,199.5 C195.4,200.4 199.5,202.1 200.6,201.6 C201.7,201.1 200.1,197.8 199.3,196.4 Z" fill="url(#bgG)"/>
<path d="M141.0,208.5 C141.7,209.6 143.0,210.3 145.0,211.6 C147.0,212.9 150.3,214.8 153.0,216.4 C155.7,218.0 158.2,219.7 160.9,221.2 C163.6,222.7 166.2,223.9 168.9,225.2 C171.6,226.5 174.2,227.8 176.8,228.8 C179.5,229.9 182.1,230.8 184.8,231.5 C187.5,232.2 190.5,232.9 193.0,233.2 C195.5,233.5 198.8,234.3 200.0,233.4 C201.2,232.5 203.9,230.1 200.0,228.0 C196.1,225.9 184.6,224.0 176.8,221.0 C169.0,218.0 159.0,212.7 153.0,210.0 C147.0,207.3 143.0,205.2 141.0,205.0 C139.0,204.8 140.3,207.4 141.0,208.5 Z" fill="#3D4A1E"/>
<path d="M132.2,201.0 C132.5,203.6 136.3,205.2 137.8,206.5 C139.3,207.8 139.8,208.0 141.0,208.5 C142.2,209.0 143.0,208.5 145.0,209.4 C147.0,210.3 150.3,212.6 153.0,214.0 C155.7,215.4 158.2,216.7 160.9,218.0 C163.6,219.3 166.2,220.8 168.9,222.0 C171.6,223.2 174.2,224.3 176.8,225.2 C179.5,226.1 182.1,226.7 184.8,227.5 C187.5,228.3 190.4,229.3 192.8,229.9 C195.2,230.5 197.9,230.8 199.1,231.2 C200.3,231.6 198.8,232.1 200.0,232.4 C201.2,232.7 204.3,232.9 206.4,233.0 C208.5,233.1 210.6,232.9 212.7,232.7 C214.8,232.5 217.0,232.1 219.1,231.6 C221.2,231.1 223.6,230.4 225.5,229.6 C227.4,228.8 229.9,228.1 230.5,227.0 C231.1,225.9 231.4,224.5 229.0,223.0 C226.6,221.5 220.6,219.7 215.9,218.0 C211.2,216.3 207.2,215.2 200.7,213.0 C194.2,210.8 184.8,207.7 176.8,205.0 C168.9,202.3 159.8,199.3 153.0,197.0 C146.2,194.7 139.7,190.3 136.2,191.0 C132.7,191.7 131.9,198.4 132.2,201.0 Z" fill="#34264C"/>
<path d="M110.7,183.5 C111.4,184.6 114.2,186.2 115.9,187.6 C117.7,189.0 119.4,190.6 121.2,192.0 C123.0,193.4 124.7,194.5 126.5,196.0 C128.3,197.5 130.3,199.6 132.2,200.8 C134.1,202.0 135.7,202.4 137.8,203.3 C139.9,204.2 142.5,204.9 145.0,206.0 C147.5,207.1 150.3,208.8 153.0,210.0 C155.7,211.2 158.2,212.3 160.9,213.2 C163.6,214.1 166.2,214.8 168.9,215.6 C171.6,216.4 174.2,217.3 176.8,218.0 C179.5,218.7 182.6,219.1 184.8,219.6 C187.0,220.1 188.2,220.5 190.0,220.8 C191.8,221.1 193.5,221.4 195.3,221.6 C197.1,221.8 198.8,221.9 200.6,222.0 C202.4,222.1 204.1,222.2 206.0,222.3 C207.9,222.4 211.2,223.3 212.0,222.6 C212.8,221.9 212.9,219.6 211.0,218.0 C209.1,216.4 203.7,214.3 200.7,213.0 C197.7,211.7 196.8,211.3 192.8,210.0 C188.8,208.7 182.1,206.8 176.8,205.0 C171.5,203.2 166.2,201.4 160.9,199.5 C155.6,197.6 150.2,195.4 145.0,193.5 C139.8,191.6 134.5,189.8 129.8,188.0 C125.2,186.2 120.1,184.2 117.1,183.0 C114.1,181.8 113.1,180.9 112.0,181.0 C110.9,181.1 110.0,182.4 110.7,183.5 Z" fill="#1D4656"/>
<path d="M88.5,168.0 C89.0,167.3 89.9,166.2 91.0,165.5 C92.1,164.8 93.5,164.0 95.0,163.6 C96.5,163.2 98.1,163.3 99.9,163.3 C101.7,163.3 103.8,163.5 105.9,163.5 C108.0,163.5 110.6,163.3 112.3,163.1 C114.0,162.9 115.6,162.4 116.3,162.3 C117.0,162.2 115.4,162.0 116.3,162.7 C117.2,163.4 119.8,165.3 121.8,166.4 C123.8,167.5 126.1,168.4 128.2,169.4 C130.3,170.4 132.5,171.4 134.6,172.4 C136.7,173.4 139.3,174.7 141.0,175.6 C142.7,176.5 143.0,176.9 145.0,177.8 C147.0,178.7 150.3,179.8 153.0,180.8 C155.7,181.8 158.2,182.8 160.9,183.8 C163.6,184.8 166.2,185.9 168.9,186.9 C171.6,187.9 174.2,189.0 176.8,190.1 C179.5,191.2 182.1,192.2 184.8,193.3 C187.5,194.4 190.2,195.6 192.8,196.5 C195.4,197.4 198.6,197.8 200.6,198.6 C202.6,199.4 203.1,199.9 204.8,201.1 C206.6,202.3 209.0,204.6 211.1,205.9 C213.2,207.2 215.4,208.3 217.5,209.1 C219.6,209.8 222.0,209.2 223.9,210.4 C225.8,211.6 228.5,213.6 229.0,216.0 C229.5,218.4 228.2,223.8 227.1,225.0 C226.0,226.2 224.2,223.8 222.3,223.3 C220.4,222.9 218.0,222.6 215.9,222.3 C213.8,222.0 211.4,221.9 209.6,221.7 C207.8,221.5 206.7,221.2 205.2,221.0 C203.7,220.8 202.8,221.2 200.7,220.6 C198.6,220.0 195.5,218.6 192.8,217.5 C190.2,216.4 187.5,215.3 184.8,214.0 C182.1,212.7 179.5,210.9 176.8,209.7 C174.2,208.5 171.6,207.9 168.9,207.0 C166.2,206.1 163.6,205.1 160.9,204.2 C158.2,203.3 155.7,202.5 153.0,201.5 C150.3,200.5 147.8,199.2 145.0,198.0 C142.2,196.8 138.7,195.2 136.2,194.2 C133.7,193.2 131.9,192.6 129.8,191.8 C127.7,191.0 125.5,190.4 123.4,189.5 C121.3,188.6 119.2,187.4 117.1,186.4 C115.0,185.4 113.0,184.6 110.7,183.5 C108.4,182.4 105.6,181.2 103.5,180.0 C101.4,178.8 99.8,177.7 98.0,176.5 C96.2,175.3 94.7,174.0 93.0,172.8 C91.3,171.6 88.5,170.3 87.8,169.5 C87.0,168.7 88.0,168.7 88.5,168.0 Z" fill="url(#flG)"/>
<clipPath id="cFL"><path d="M88.5,168.0 C89.0,167.3 89.9,166.2 91.0,165.5 C92.1,164.8 93.5,164.0 95.0,163.6 C96.5,163.2 98.1,163.3 99.9,163.3 C101.7,163.3 103.8,163.5 105.9,163.5 C108.0,163.5 110.6,163.3 112.3,163.1 C114.0,162.9 115.6,162.4 116.3,162.3 C117.0,162.2 115.4,162.0 116.3,162.7 C117.2,163.4 119.8,165.3 121.8,166.4 C123.8,167.5 126.1,168.4 128.2,169.4 C130.3,170.4 132.5,171.4 134.6,172.4 C136.7,173.4 139.3,174.7 141.0,175.6 C142.7,176.5 143.0,176.9 145.0,177.8 C147.0,178.7 150.3,179.8 153.0,180.8 C155.7,181.8 158.2,182.8 160.9,183.8 C163.6,184.8 166.2,185.9 168.9,186.9 C171.6,187.9 174.2,189.0 176.8,190.1 C179.5,191.2 182.1,192.2 184.8,193.3 C187.5,194.4 190.2,195.6 192.8,196.5 C195.4,197.4 198.6,197.8 200.6,198.6 C202.6,199.4 203.1,199.9 204.8,201.1 C206.6,202.3 209.0,204.6 211.1,205.9 C213.2,207.2 215.4,208.3 217.5,209.1 C219.6,209.8 222.0,209.2 223.9,210.4 C225.8,211.6 228.5,213.6 229.0,216.0 C229.5,218.4 228.2,223.8 227.1,225.0 C226.0,226.2 224.2,223.8 222.3,223.3 C220.4,222.9 218.0,222.6 215.9,222.3 C213.8,222.0 211.4,221.9 209.6,221.7 C207.8,221.5 206.7,221.2 205.2,221.0 C203.7,220.8 202.8,221.2 200.7,220.6 C198.6,220.0 195.5,218.6 192.8,217.5 C190.2,216.4 187.5,215.3 184.8,214.0 C182.1,212.7 179.5,210.9 176.8,209.7 C174.2,208.5 171.6,207.9 168.9,207.0 C166.2,206.1 163.6,205.1 160.9,204.2 C158.2,203.3 155.7,202.5 153.0,201.5 C150.3,200.5 147.8,199.2 145.0,198.0 C142.2,196.8 138.7,195.2 136.2,194.2 C133.7,193.2 131.9,192.6 129.8,191.8 C127.7,191.0 125.5,190.4 123.4,189.5 C121.3,188.6 119.2,187.4 117.1,186.4 C115.0,185.4 113.0,184.6 110.7,183.5 C108.4,182.4 105.6,181.2 103.5,180.0 C101.4,178.8 99.8,177.7 98.0,176.5 C96.2,175.3 94.7,174.0 93.0,172.8 C91.3,171.6 88.5,170.3 87.8,169.5 C87.0,168.7 88.0,168.7 88.5,168.0 Z"/></clipPath>
<g clip-path="url(#cFL)"><path d="M84,160 L116,160 L116,190 L84,190 Z" fill="url(#brLo)"/>
<path d="M197.0,196.6 C193.1,194.5 199.2,198.4 200.5,199.5 C201.8,200.6 203.2,201.7 205.0,203.0 C206.8,204.3 209.0,206.3 211.1,207.6 C213.2,208.9 215.3,210.1 217.5,210.8 C219.7,211.5 227.4,214.4 224.0,212.0" stroke="#EA9444" stroke-width="5" fill="none" opacity="0.9" filter="url(#b1)"/></g>
<path d="M75.9,165.0 C75.6,165.5 77.2,168.0 78.3,169.0 C79.4,170.0 81.0,170.8 82.3,171.1 C83.6,171.4 85.3,170.9 86.2,170.6 C87.1,170.2 88.2,169.6 87.8,169.0 C87.4,168.4 85.3,167.5 84.0,167.0 C82.7,166.5 81.3,166.3 80.0,166.0 C78.7,165.7 76.2,164.5 75.9,165.0 Z" fill="#34264C"/>
<path d="M347.4,116.7 C346.4,116.6 344.1,116.4 341.8,116.1 C339.6,115.8 336.3,114.9 333.9,114.8 C331.5,114.7 329.6,115.0 327.5,115.6 C325.4,116.2 323.0,117.3 321.1,118.4 C319.2,119.5 317.8,121.0 316.4,122.4 C314.9,123.8 314.0,124.9 312.4,126.7 C310.8,128.5 308.7,130.3 306.5,133.0 C304.3,135.7 301.6,139.4 299.0,143.0 C296.4,146.6 293.4,150.8 290.8,154.6 C288.2,158.4 285.9,162.3 283.2,166.0 C280.5,169.7 277.5,173.6 274.8,177.0 C272.1,180.4 269.9,183.0 267.2,186.5 C264.5,190.0 260.9,195.0 258.8,198.0 C256.7,201.0 255.9,202.3 254.8,204.4 C253.7,206.5 252.8,208.4 252.2,210.7 C251.6,213.0 251.4,216.2 251.3,218.0 C251.2,219.8 251.0,220.1 251.8,221.8 C252.6,223.5 254.8,225.6 256.0,228.0 C257.2,230.4 257.8,233.0 259.0,236.0 C260.2,239.0 261.2,242.9 263.0,246.0 C264.8,249.1 268.4,252.9 269.5,254.3 C270.6,255.7 269.2,254.3 269.5,254.3 C269.8,254.3 270.5,254.7 271.5,254.5 C272.5,254.3 274.0,253.7 275.5,252.9 C277.0,252.1 278.7,250.9 280.3,249.7 C281.9,248.5 283.4,247.2 285.0,245.8 C286.6,244.4 288.2,242.7 289.8,241.0 C291.4,239.3 293.0,237.3 294.6,235.4 C296.2,233.5 297.8,231.8 299.4,229.8 C301.0,227.8 302.4,225.7 304.0,223.3 C305.6,220.9 307.4,218.2 309.0,215.5 C310.6,212.8 311.9,209.8 313.5,207.0 C315.1,204.2 316.8,201.3 318.4,198.5 C320.0,195.7 321.5,192.8 323.0,190.0 C324.5,187.2 325.9,184.2 327.2,181.5 C328.5,178.8 329.7,176.2 330.8,173.5 C331.9,170.8 333.0,167.8 334.0,165.0 C335.0,162.2 336.1,159.3 337.0,156.5 C337.9,153.7 338.8,150.6 339.5,148.0 C340.2,145.4 340.6,143.8 341.4,141.0 C342.1,138.2 343.2,134.4 344.0,131.5 C344.8,128.6 345.4,126.0 346.0,123.5 C346.6,121.0 347.4,117.6 347.6,116.5 C347.8,115.4 348.4,116.8 347.4,116.7 Z" fill="#3D9FB8"/>
<path d="M256.5,224.0 C257.0,223.0 258.8,223.7 259.6,224.0 C260.4,224.3 261.0,224.8 261.5,226.0 C262.0,227.2 261.9,229.2 262.4,231.4 C262.9,233.6 263.6,236.7 264.3,239.4 C265.0,242.1 266.9,246.6 266.7,247.4 C266.5,248.2 264.3,245.9 263.0,244.0 C261.7,242.1 260.1,238.3 259.0,236.0 C257.9,233.7 256.9,232.0 256.5,230.0 C256.1,228.0 256.0,225.0 256.5,224.0 Z" fill="#1D4656"/>
<path d="M341.4,139.6 C340.6,138.0 337.1,138.6 335.0,138.7 C332.9,138.8 330.8,139.3 328.7,140.0 C326.6,140.7 324.4,141.6 322.3,142.8 C320.2,144.0 317.9,145.6 315.9,147.0 C313.8,148.4 311.9,149.7 310.0,151.5 C308.1,153.3 306.4,155.3 304.5,157.6 C302.6,159.8 300.5,162.4 298.5,165.0 C296.5,167.6 294.6,170.0 292.5,173.0 C290.4,176.0 288.1,180.0 286.0,183.0 C283.9,186.0 282.0,188.5 280.0,191.0 C278.0,193.5 275.8,195.8 274.0,198.0 C272.2,200.2 270.4,202.3 269.0,204.4 C267.6,206.5 266.4,208.6 265.3,210.7 C264.2,212.8 263.3,215.0 262.6,217.1 C261.9,219.2 261.4,221.1 261.3,223.5 C261.2,225.9 261.7,228.8 262.2,231.4 C262.7,234.1 263.6,236.7 264.3,239.4 C265.1,242.1 265.9,245.0 266.7,247.4 C267.5,249.8 268.6,252.5 269.1,253.7 C269.6,254.8 269.1,254.2 269.5,254.3 C269.9,254.4 270.5,254.7 271.5,254.5 C272.5,254.3 274.0,253.7 275.5,252.9 C277.0,252.1 278.7,250.9 280.3,249.7 C281.9,248.5 283.4,247.2 285.0,245.8 C286.6,244.4 288.2,242.7 289.8,241.0 C291.4,239.3 293.0,237.3 294.6,235.4 C296.2,233.5 297.8,231.8 299.4,229.8 C301.0,227.8 302.4,225.7 304.0,223.3 C305.6,220.9 307.4,218.2 309.0,215.5 C310.6,212.8 311.9,209.8 313.5,207.0 C315.1,204.2 316.8,201.3 318.4,198.5 C320.0,195.7 321.5,192.8 323.0,190.0 C324.5,187.2 325.9,184.2 327.2,181.5 C328.5,178.8 329.7,176.2 330.8,173.5 C331.9,170.8 333.0,167.8 334.0,165.0 C335.0,162.2 336.1,159.3 337.0,156.5 C337.9,153.7 338.8,150.8 339.5,148.0 C340.2,145.2 342.1,141.2 341.4,139.6 Z" fill="#7C5DA2"/>
<path d="M334.4,163.5 C333.9,162.0 330.1,164.1 328.0,164.6 C325.9,165.1 323.8,165.6 321.6,166.5 C319.4,167.4 317.2,168.5 314.8,170.0 C312.4,171.5 309.6,173.7 307.5,175.5 C305.4,177.3 304.0,179.1 302.3,181.0 C300.6,182.9 299.1,184.9 297.5,187.0 C295.9,189.1 294.5,191.3 293.0,193.5 C291.5,195.7 289.8,198.0 288.5,200.0 C287.2,202.0 286.2,203.8 285.0,205.5 C283.8,207.2 282.7,208.7 281.5,210.5 C280.3,212.3 278.9,214.4 277.6,216.5 C276.4,218.6 275.1,220.8 274.0,223.0 C272.9,225.2 272.0,227.6 271.2,230.0 C270.4,232.4 269.9,235.0 269.4,237.5 C268.9,240.0 268.5,242.6 268.4,245.0 C268.3,247.4 268.4,250.5 268.6,252.1 C268.8,253.7 269.0,253.9 269.5,254.3 C270.0,254.7 270.5,254.7 271.5,254.5 C272.5,254.3 274.0,253.7 275.5,252.9 C277.0,252.1 278.7,250.9 280.3,249.7 C281.9,248.5 283.4,247.2 285.0,245.8 C286.6,244.4 288.2,242.7 289.8,241.0 C291.4,239.3 293.0,237.3 294.6,235.4 C296.2,233.5 297.8,231.8 299.4,229.8 C301.0,227.8 302.4,225.7 304.0,223.3 C305.6,220.9 307.4,218.2 309.0,215.5 C310.6,212.8 311.9,209.8 313.5,207.0 C315.1,204.2 316.8,201.3 318.4,198.5 C320.0,195.7 321.5,192.8 323.0,190.0 C324.5,187.2 325.9,184.2 327.2,181.5 C328.5,178.8 329.6,176.5 330.8,173.5 C332.0,170.5 334.9,165.0 334.4,163.5 Z" fill="#9CBB56"/>
<clipPath id="cOG"><path d="M334.4,163.5 C333.9,162.0 330.1,164.1 328.0,164.6 C325.9,165.1 323.8,165.6 321.6,166.5 C319.4,167.4 317.2,168.5 314.8,170.0 C312.4,171.5 309.6,173.7 307.5,175.5 C305.4,177.3 304.0,179.1 302.3,181.0 C300.6,182.9 299.1,184.9 297.5,187.0 C295.9,189.1 294.5,191.3 293.0,193.5 C291.5,195.7 289.8,198.0 288.5,200.0 C287.2,202.0 286.2,203.8 285.0,205.5 C283.8,207.2 282.7,208.7 281.5,210.5 C280.3,212.3 278.9,214.4 277.6,216.5 C276.4,218.6 275.1,220.8 274.0,223.0 C272.9,225.2 272.0,227.6 271.2,230.0 C270.4,232.4 269.9,235.0 269.4,237.5 C268.9,240.0 268.5,242.6 268.4,245.0 C268.3,247.4 268.4,250.5 268.6,252.1 C268.8,253.7 269.0,253.9 269.5,254.3 C270.0,254.7 270.5,254.7 271.5,254.5 C272.5,254.3 274.0,253.7 275.5,252.9 C277.0,252.1 278.7,250.9 280.3,249.7 C281.9,248.5 283.4,247.2 285.0,245.8 C286.6,244.4 288.2,242.7 289.8,241.0 C291.4,239.3 293.0,237.3 294.6,235.4 C296.2,233.5 297.8,231.8 299.4,229.8 C301.0,227.8 302.4,225.7 304.0,223.3 C305.6,220.9 307.4,218.2 309.0,215.5 C310.6,212.8 311.9,209.8 313.5,207.0 C315.1,204.2 316.8,201.3 318.4,198.5 C320.0,195.7 321.5,192.8 323.0,190.0 C324.5,187.2 325.9,184.2 327.2,181.5 C328.5,178.8 329.6,176.5 330.8,173.5 C332.0,170.5 334.9,165.0 334.4,163.5 Z"/></clipPath>
<g clip-path="url(#cOG)"><ellipse cx="308" cy="198" rx="5" ry="24" transform="rotate(32 308 198)" fill="#C3DC78" opacity="0.5" filter="url(#b2)"/></g>
<path d="M301.2,223.5 C301.4,222.6 302.6,220.4 303.5,219.0 C304.4,217.6 305.9,215.9 306.8,215.2 C307.7,214.5 308.5,214.2 308.6,214.6 C308.7,215.0 308.2,216.3 307.5,217.5 C306.8,218.7 305.5,220.4 304.6,221.6 C303.7,222.8 302.8,224.3 302.2,224.6 C301.6,224.9 301.0,224.4 301.2,223.5 Z" fill="#DD5A66"/>
<ellipse cx="226" cy="215.5" rx="7" ry="4.5" transform="rotate(20 226 215.5)" fill="#F8B874" opacity="0.75" filter="url(#b1)"/>
<path d="M250.8,223.2 C251.9,222.5 254.4,222.9 256.0,223.0 C257.6,223.1 260.3,224.0 260.3,224.0 C260.3,224.0 258.9,228.0 258.2,230.0 C257.5,232.0 256.9,233.9 256.2,236.0 C255.5,238.1 254.2,242.8 254.2,242.8 C254.2,242.8 252.7,240.3 252.0,238.5 C251.3,236.7 250.7,233.9 250.3,232.0 C249.9,230.1 249.5,228.5 249.6,227.0 C249.7,225.5 249.7,223.9 250.8,223.2 Z" fill="url(#flapG)"/>
<clipPath id="cO"><path d="M62.4,145.1 C62.4,145.1 64.8,146.6 66.3,147.5 C67.8,148.4 69.5,149.6 71.1,150.7 C72.7,151.8 74.3,153.4 75.9,153.9 C77.5,154.4 79.1,154.3 80.7,153.9 C82.3,153.5 83.8,152.4 85.4,151.5 C87.0,150.6 88.6,149.4 90.2,148.3 C91.8,147.2 93.4,146.2 95.0,145.1 C96.6,144.0 98.2,142.9 99.8,141.6 C101.4,140.2 103.1,138.6 104.7,137.0 C106.3,135.4 107.8,133.9 109.5,132.0 C111.2,130.1 113.0,127.3 114.6,125.5 C116.2,123.7 117.7,122.7 119.3,121.3 C120.9,119.9 122.5,118.6 124.1,117.0 C125.7,115.4 127.3,113.4 128.9,111.7 C130.5,110.0 132.1,108.5 133.7,106.9 C135.3,105.3 136.8,103.7 138.4,102.2 C140.0,100.8 141.7,99.5 143.2,98.2 C144.7,96.9 146.1,95.8 147.2,94.5 C148.3,93.2 148.9,92.1 150.0,90.7 C151.1,89.3 152.7,87.7 154.0,86.0 C155.3,84.3 158.0,80.8 158.0,80.8 C158.0,80.8 158.5,75.8 158.8,73.2 C159.1,70.6 159.3,67.7 159.6,65.3 C159.9,62.9 160.2,60.9 160.4,58.9 C160.6,56.9 160.6,54.6 160.8,53.3 C161.0,52.0 161.2,52.3 161.5,50.9 C161.8,49.5 162.2,46.7 162.7,44.6 C163.2,42.5 164.6,38.5 164.6,38.5 C164.6,38.5 166.2,41.1 167.5,42.2 C168.8,43.4 170.4,44.6 172.3,45.4 C174.2,46.2 176.6,46.6 178.7,46.9 C180.8,47.1 183.0,47.3 185.0,46.9 C187.0,46.5 188.9,45.4 190.6,44.6 C192.3,43.8 195.4,42.2 195.4,42.2 C195.4,42.2 196.9,43.6 197.8,44.6 C198.7,45.6 200.1,47.2 201.0,48.3 C201.9,49.4 202.7,50.5 203.5,51.3 C204.3,52.1 204.8,52.6 205.8,53.0 C206.9,53.4 208.3,53.1 209.8,53.6 C211.3,54.1 212.8,55.4 214.6,55.8 C216.4,56.2 218.8,55.8 220.9,56.2 C223.0,56.6 225.2,57.5 227.3,58.3 C229.4,59.1 231.6,60.4 233.7,61.2 C235.8,62.0 237.9,62.4 240.0,63.1 C242.1,63.8 244.3,64.7 246.4,65.3 C248.5,65.9 250.7,66.1 252.8,66.7 C254.9,67.3 257.0,68.2 259.1,68.9 C261.2,69.6 263.1,69.9 265.2,70.6 C267.3,71.2 269.5,72.0 272.0,72.8 C274.5,73.6 277.4,74.5 280.0,75.4 C282.6,76.3 285.2,76.8 287.5,78.0 C289.8,79.2 291.7,81.1 293.8,82.6 C295.9,84.1 298.1,85.5 300.2,86.8 C302.3,88.1 305.0,89.7 306.6,90.5 C308.2,91.3 308.6,91.1 310.0,91.7 C311.4,92.3 313.2,93.3 314.8,94.1 C316.4,94.9 318.0,96.4 319.6,96.5 C321.2,96.6 322.7,95.8 324.3,94.9 C325.9,94.0 327.5,91.8 329.1,90.9 C330.7,90.0 332.4,89.3 333.9,89.3 C335.4,89.3 336.6,89.8 337.9,90.9 C339.2,92.0 340.4,94.2 341.8,95.7 C343.2,97.2 345.0,98.6 346.6,99.7 C348.2,100.8 351.7,102.4 351.7,102.4 C351.7,102.4 353.3,104.7 353.8,106.8 C354.3,108.9 354.6,112.4 354.6,114.8 C354.6,117.2 353.8,121.2 353.8,121.2 C353.8,121.2 352.5,117.9 351.7,116.7 C350.9,115.5 349.7,114.0 349.0,114.0 C348.3,114.0 348.6,116.4 347.4,116.7 C346.2,117.0 344.1,116.4 341.8,116.1 C339.6,115.8 336.3,114.9 333.9,114.8 C331.5,114.7 329.6,115.0 327.5,115.6 C325.4,116.2 323.0,117.3 321.1,118.4 C319.2,119.5 317.8,121.0 316.4,122.4 C314.9,123.8 314.0,124.9 312.4,126.7 C310.8,128.5 308.7,130.3 306.5,133.0 C304.3,135.7 301.6,139.4 299.0,143.0 C296.4,146.6 293.4,150.8 290.8,154.6 C288.2,158.4 285.9,162.3 283.2,166.0 C280.5,169.7 277.5,173.6 274.8,177.0 C272.1,180.4 269.9,183.0 267.2,186.5 C264.5,190.0 260.9,195.0 258.8,198.0 C256.7,201.0 255.9,202.3 254.8,204.4 C253.7,206.5 252.8,208.4 252.2,210.7 C251.6,213.0 251.4,216.2 251.3,218.0 C251.2,219.8 250.4,220.8 251.8,221.8 C253.2,222.8 259.6,223.8 259.6,223.8 C259.6,223.8 258.0,226.5 257.3,228.2 C256.6,229.9 256.2,231.4 255.7,233.8 C255.2,236.2 254.2,242.8 254.2,242.8 C254.2,242.8 252.3,241.2 251.0,240.1 C249.7,239.0 247.8,237.7 246.2,236.4 C244.6,235.1 243.0,233.6 241.4,232.4 C239.8,231.2 238.2,230.1 236.6,229.2 C235.0,228.3 233.4,227.5 231.8,226.8 C230.2,226.1 228.7,225.6 227.1,225.0 C225.5,224.4 224.2,223.8 222.3,223.3 C220.4,222.9 218.0,222.6 215.9,222.3 C213.8,222.0 211.4,221.9 209.6,221.7 C207.8,221.5 206.7,221.2 205.2,221.0 C203.7,220.8 202.8,221.2 200.7,220.6 C198.6,220.0 195.5,218.6 192.8,217.5 C190.2,216.4 187.5,215.3 184.8,214.0 C182.1,212.7 179.5,210.9 176.8,209.7 C174.2,208.5 171.6,207.9 168.9,207.0 C166.2,206.1 163.6,205.1 160.9,204.2 C158.2,203.3 155.7,202.5 153.0,201.5 C150.3,200.5 147.8,199.2 145.0,198.0 C142.2,196.8 138.7,195.2 136.2,194.2 C133.7,193.2 131.9,192.6 129.8,191.8 C127.7,191.0 125.5,190.4 123.4,189.5 C121.3,188.6 119.2,187.4 117.1,186.4 C115.0,185.4 113.0,184.6 110.7,183.5 C108.4,182.4 105.6,181.2 103.5,180.0 C101.4,178.8 99.8,177.7 98.0,176.5 C96.2,175.3 94.7,174.0 93.0,172.8 C91.3,171.6 89.6,170.3 87.8,169.5 C86.0,168.7 84.0,168.8 82.0,168.0 C80.0,167.2 77.5,165.7 75.9,165.0 C74.4,164.3 74.0,164.1 72.7,163.8 C71.4,163.5 69.5,163.6 67.9,163.4 C66.3,163.2 64.4,163.0 63.1,162.6 C61.8,162.2 60.6,161.9 60.0,161.0 C59.4,160.1 59.2,158.8 59.2,157.1 C59.2,155.4 59.5,152.7 60.0,150.7 C60.5,148.7 62.4,145.1 62.4,145.1 Z"/></clipPath>
<g clip-path="url(#cO)">
<g filter="url(#b1)">
<path d="M58,150 L62.4,144 L70,150 L72,158 L68,164 L58,162 Z" fill="#9A541A" opacity="0.38"/>
<ellipse cx="73.5" cy="156" rx="2.2" ry="5" transform="rotate(-25 73.5 156)" fill="#F9BC7C" opacity="0.8"/>
<path d="M77,161 L92,150 M79,164.5 L95,153.5 M83,166.5 L97,157" stroke="#F8B877" stroke-width="1" fill="none" opacity="0.8"/>
<path d="M78,162.8 L93.5,151.8 M81,165.6 L96,155.2" stroke="#B5621F" stroke-width="0.8" fill="none" opacity="0.7"/>
<ellipse cx="327.5" cy="105" rx="2.6" ry="8" transform="rotate(12 327.5 105)" fill="#F9BC7C" opacity="0.75"/>
<ellipse cx="343.5" cy="106" rx="4" ry="7" transform="rotate(-30 343.5 106)" fill="#A85C1C" opacity="0.4"/>
<ellipse cx="320" cy="103" rx="3" ry="6" fill="#A85C1C" opacity="0.35"/>
<path d="M170,46 L174,60 M176,48 L181,60 M189,46 L186,58" stroke="#A85C1C" stroke-width="1.4" fill="none" opacity="0.45"/>
<path d="M166,42 L170,58 M193,45 L190,57" stroke="#F9BC7C" stroke-width="1.3" fill="none" opacity="0.6"/>
<ellipse cx="238" cy="222" rx="6" ry="3.5" transform="rotate(30 238 222)" fill="#C8742A" opacity="0.5"/>
</g>
<path d="M305.8,120.0 C314.2,109.2 304.4,123.8 303.1,126.1 C301.8,128.4 300.0,130.5 297.9,133.6 C295.9,136.7 293.2,140.8 290.8,144.6 C288.4,148.4 285.7,152.5 283.3,156.2 C280.9,159.9 279.0,163.0 276.6,166.6 C274.2,170.2 271.6,174.3 268.8,177.6 C266.0,180.9 262.6,184.3 259.9,186.6 C257.3,188.8 245.2,202.2 252.9,191.1" stroke="#F6B173" stroke-width="1.5" fill="none" opacity="0.75" filter="url(#soft)"/>
<path d="M311.2,126.3 C319.1,115.5 307.5,129.9 305.3,132.6 C303.1,135.3 300.4,139.0 297.8,142.6 C295.2,146.2 292.2,150.4 289.6,154.2 C287.0,158.0 284.7,161.9 282.0,165.6 C279.3,169.3 276.3,173.2 273.6,176.6 C270.9,180.0 268.7,182.6 266.0,186.1 C263.3,189.6 250.1,207.6 257.6,197.6" stroke="#C0702A" stroke-width="1.6" fill="none" opacity="0.6" filter="url(#soft)"/>
</g>
</g>
<g style="font-family:'Liberation Sans',sans-serif;font-weight:bold;font-size:13.33px;fill:#000"><text x="42.6" y="130.2" text-anchor="end">1.4</text>
<text x="44.8" y="148.2" text-anchor="end">1.2</text>
<text x="47.0" y="165.7" text-anchor="end">1</text>
<text x="49.1" y="182.7" text-anchor="end">0.8</text>
<text x="51.2" y="199.2" text-anchor="end">0.6</text>
<text x="53.2" y="215.7" text-anchor="end">0.4</text>
<text x="55.2" y="231.7" text-anchor="end">0.2</text>
<text x="57.1" y="247.2" text-anchor="end">0</text>
<text x="290" y="331.1" text-anchor="end">-100</text>
<text x="294" y="315.3" text-anchor="end">-80</text>
<text x="303.2" y="301.1" text-anchor="end">-60</text>
<text x="313" y="286.8" text-anchor="end">-40</text>
<text x="323.2" y="273.1" text-anchor="end">-20</text>
<text x="321" y="258.1" text-anchor="end">0</text>
<text x="338.3" y="244.1" text-anchor="end">20</text>
<text x="347.5" y="231.1" text-anchor="end">40</text>
<text x="355.5" y="218.4" text-anchor="end">60</text>
<text x="364.5" y="205.1" text-anchor="end">80</text>
<text x="374.7" y="191.9" text-anchor="end">100</text>
<text x="59.4" y="265.5" text-anchor="middle" dominant-baseline="central" transform="rotate(-45 59.4 265.5)">-120</text>
<text x="83.5" y="273" text-anchor="middle" dominant-baseline="central" transform="rotate(-45 83.5 273)">-90</text>
<text x="105.9" y="283" text-anchor="middle" dominant-baseline="central" transform="rotate(-45 105.9 283)">-60</text>
<text x="127.2" y="293" text-anchor="middle" dominant-baseline="central" transform="rotate(-45 127.2 293)">-30</text>
<text x="155" y="299.7" text-anchor="middle" dominant-baseline="central" transform="rotate(-45 155 299.7)">0</text>
<text x="175.3" y="313.7" text-anchor="middle" dominant-baseline="central" transform="rotate(-45 175.3 313.7)">30</text>
<text x="198.7" y="323.7" text-anchor="middle" dominant-baseline="central" transform="rotate(-45 198.7 323.7)">60</text>
<text x="223" y="334" text-anchor="middle" dominant-baseline="central" transform="rotate(-45 223 334)">90</text>
<text x="244.2" y="346.5" text-anchor="middle" dominant-baseline="central" transform="rotate(-45 244.2 346.5)">120</text>
<text x="105.7" y="329" text-anchor="middle">Rotation (°)</text>
<text x="358" y="282" text-anchor="middle">Tilt (°)</text>
<text x="11.5" y="184.6" text-anchor="middle" transform="rotate(-90 11.5 184.6)">Normalised critical current</text></g>
</svg>
</body></html>
